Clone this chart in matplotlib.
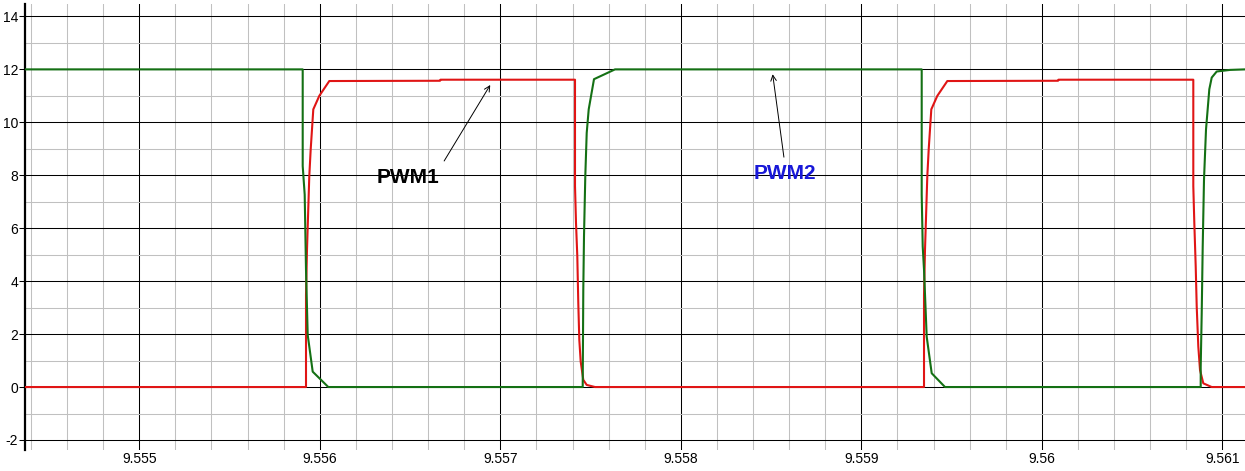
import matplotlib.pyplot as plt
from matplotlib.ticker import MultipleLocator

plt.rcParams['font.family'] = ['Liberation Sans', 'DejaVu Sans']

# 时间轴 (s) 与电压值，从截图上逐点读取
pwm1_t = [9.5543668, 9.5559236, 9.5559236, 9.5559291, 9.5559418, 9.5559496, 9.555964,
          9.5559972, 9.5560526, 9.5566659, 9.5566687,
          9.5574139, 9.5574139, 9.5574194, 9.5574266, 9.5574321, 9.5574377, 9.5574454,
          9.5574598, 9.5574787, 9.5575247,
          9.5593474, 9.5593474, 9.5593529, 9.5593657, 9.5593734, 9.5593878, 9.5594211,
          9.5594765, 9.5600898, 9.5600925,
          9.5608393, 9.5608393, 9.5608449, 9.5608526, 9.5608582, 9.560867, 9.5608765,
          9.5608947, 9.5609413, 9.5611257]
pwm1_v = [0, 0, 3.48, 5.19, 7.97, 8.98, 10.49, 11.0, 11.56, 11.57, 11.61,
          11.61, 7.59, 6.2, 4.94, 3.17, 1.78, 0.96, 0.27, 0.08, 0,
          0, 3.48, 5.19, 7.97, 8.98, 10.49, 11.0, 11.56, 11.57, 11.61,
          11.61, 7.59, 6.2, 4.56, 3.04, 1.53, 0.64, 0.14, 0, 0]

pwm2_t = [9.5543668, 9.5559053, 9.5559053, 9.5559163, 9.5559236, 9.555933, 9.5559607, 9.5560471,
          9.5574565, 9.5574598, 9.5574637, 9.5574709, 9.5574787, 9.5574898, 9.5575191, 9.5576355,
          9.5593346, 9.5593346, 9.5593402, 9.5593474, 9.5593623, 9.55939, 9.5594637,
          9.5608803, 9.5608803, 9.5608859, 9.5608914, 9.5608986, 9.5609097, 9.560928,
          9.5609413, 9.560969, 9.5610427, 9.5611257]
pwm2_v = [12, 12, 8.35, 7.27, 4.43, 1.97, 0.58, 0,
          0, 3.67, 5.69, 7.97, 9.6, 10.49, 11.63, 12.0,
          12.0, 7.27, 5.31, 4.43, 1.9, 0.52, 0,
          0, 0.77, 2.79, 5.31, 7.84, 9.73, 11.25,
          11.69, 11.92, 11.98, 12.0]

x_ticks = [9.555, 9.556, 9.557, 9.558, 9.559, 9.560, 9.561]
x_labels = ['9.555', '9.556', '9.557', '9.558', '9.559', '9.56', '9.561']
y_ticks = [-2, 0, 2, 4, 6, 8, 10, 12, 14]

fig = plt.figure(figsize=(12.45, 4.71), dpi=100)
ax = fig.add_axes([25 / 1245, 1 - 449.5 / 471, 1 - 25 / 1245, 445.5 / 471])

ax.plot(pwm1_t, pwm1_v, color='#e01515', lw=1.5, zorder=3)
ax.plot(pwm2_t, pwm2_v, color='#147014', lw=1.5, zorder=4)

ax.set_xlim(9.5543668, 9.5611257)
ax.set_ylim(-2.36, 14.47)

ax.set_xticks(x_ticks)
ax.set_xticklabels(x_labels)
ax.set_yticks(y_ticks)
ax.set_yticklabels([str(v) for v in y_ticks])
ax.xaxis.set_minor_locator(MultipleLocator(0.0002))
ax.yaxis.set_minor_locator(MultipleLocator(1))

# 网格：主线黑色，次线灰色
ax.grid(which='minor', color='#c0c0c0', lw=0.75, zorder=0)
ax.grid(which='major', color='black', lw=0.75, zorder=1)

ax.tick_params(axis='x', which='both', length=0, pad=2, labelsize=10)
ax.tick_params(axis='y', which='major', length=4, width=0.75, pad=1, labelsize=10)
ax.tick_params(axis='y', which='minor', length=0)

for side in ['top', 'right', 'bottom']:
    ax.spines[side].set_visible(False)
ax.spines['left'].set_linewidth(1.6)

# 标注
ax.annotate('', xy=(9.5569523, 11.5), xytext=(9.5566809, 8.45),
            arrowprops=dict(arrowstyle='->', color='black', lw=0.7, mutation_scale=10), zorder=5)
ax.text(9.5564903, 7.9, 'PWM1', color='black', fontsize=15, fontweight='bold',
        ha='center', va='center', zorder=5)
ax.annotate('', xy=(9.5585069, 11.92), xytext=(9.5585733, 8.58),
            arrowprops=dict(arrowstyle='->', color='black', lw=0.7, mutation_scale=10), zorder=5)
ax.text(9.5585773, 8.08, 'PWM2', color='#1818d8', fontsize=15, fontweight='bold',
        ha='center', va='center', zorder=5)

plt.savefig('out.png', dpi=100)
